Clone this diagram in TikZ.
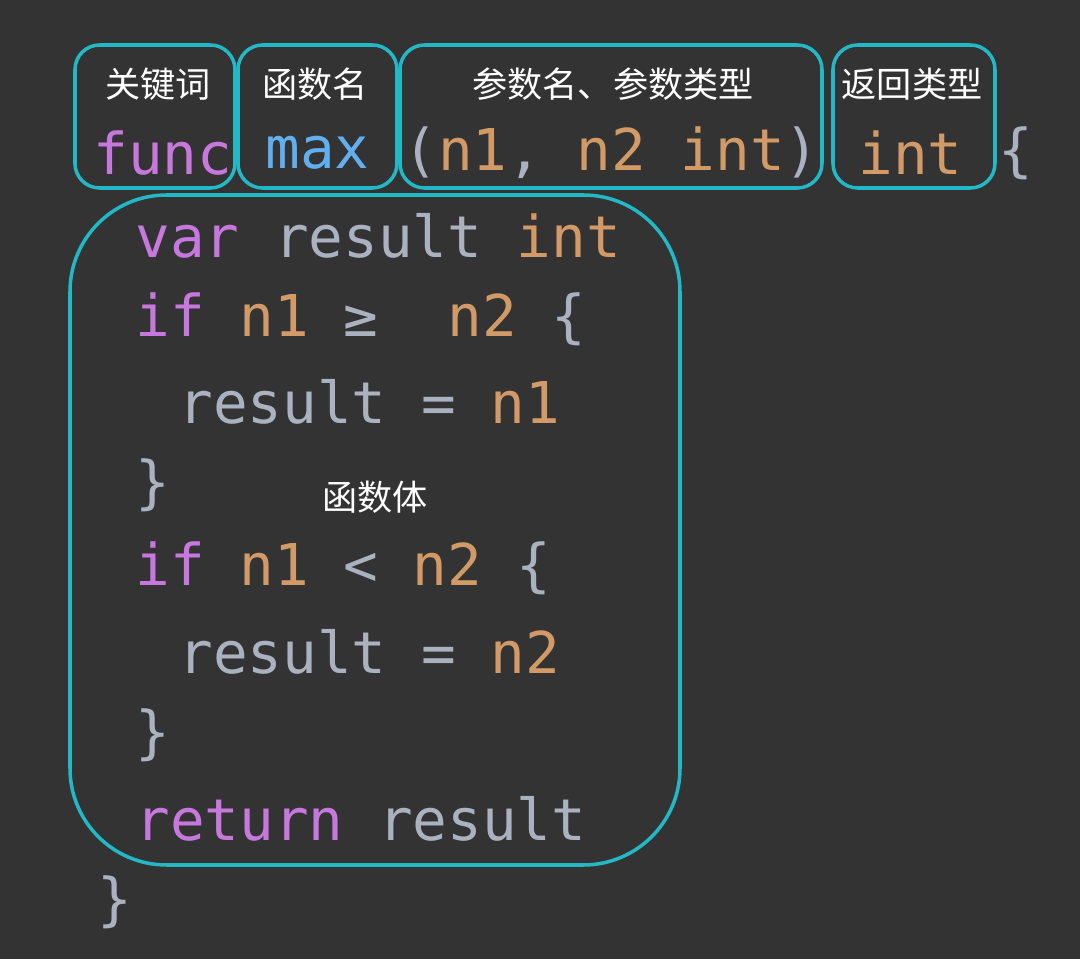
\documentclass[tikz,border=0pt]{standalone}
\usepackage{fontspec}
\setmonofont{DejaVu Sans Mono}
\newfontfamily\cjk{Noto Sans CJK SC}
\definecolor{bgc}{HTML}{333333}
\definecolor{boxc}{HTML}{22B8C6}
\definecolor{kwc}{HTML}{C678DD}
\definecolor{fnc}{HTML}{61AFEF}
\definecolor{numc}{HTML}{D19A66}
\definecolor{txc}{HTML}{ABB2BF}
\newcommand{\kw}[1]{\textcolor{kwc}{#1}}
\newcommand{\nm}[1]{\textcolor{numc}{#1}}

\begin{document}
\begin{tikzpicture}[x=0.02cm, y=-0.02cm,
    code/.style = {anchor=west, inner sep=0pt, font=\ttfamily\fontsize{32.8}{33}\selectfont, text=txc},
    label/.style = {inner sep=0pt, font=\cjk\fontsize{20}{20}\selectfont, text=white},
    part/.style = {draw=boxc, line width=2pt, rounded corners=14pt}]
  \fill[bgc] (0,0) rectangle (1080,959);

  % boxes
  \draw[part] (75,45) rectangle (235,188);
  \draw[part] (238,45) rectangle (397,188);
  \draw[part] (400,45) rectangle (822,188);
  \draw[part] (833,45) rectangle (995,188);
  \draw[part, rounded corners=55pt] (70,195) rectangle (680,865);

  \node[label] (l1) at (158,84) {关键词};
  \node[label] (l2) at (315,84) {函数名};
  \node[label] (l3) at (613,84) {参数名、参数类型};
  \node[label] (l4) at (912,84) {返回类型};
  \node[label] (l5) at (375,497) {函数体};

  % code
  \node[code] (func) at (93,153) {\kw{func}};
  \node[code] (name) at (265,153) {\textcolor{fnc}{max}};
  \node[code] (args) at (403,153) {(\nm{n1}, \nm{n2} \nm{int})};
  \node[code] (ret)  at (858,153) {\nm{int}};
  \node[code] (open) at (998,153) {\{};
  \node[code] (c1) at (135,236) {\kw{var} result \nm{int}};
  \node[code] (c2) at (135,319) {\kw{if} \nm{n1} ≥\ \ \nm{n2} \{};
  \node[code] (c3) at (178,402) {result = \nm{n1}};
  \node[code] (c4) at (135,485) {\}};
  \node[code] (c5) at (135,568) {\kw{if} \nm{n1} < \nm{n2} \{};
  \node[code] (c6) at (178,652) {result = \nm{n2}};
  \node[code] (c7) at (135,735) {\}};
  \node[code] (c8) at (135,819) {\kw{return} result};
  \node[code] (c9) at (97,902) {\}};
\end{tikzpicture}
\end{document}
